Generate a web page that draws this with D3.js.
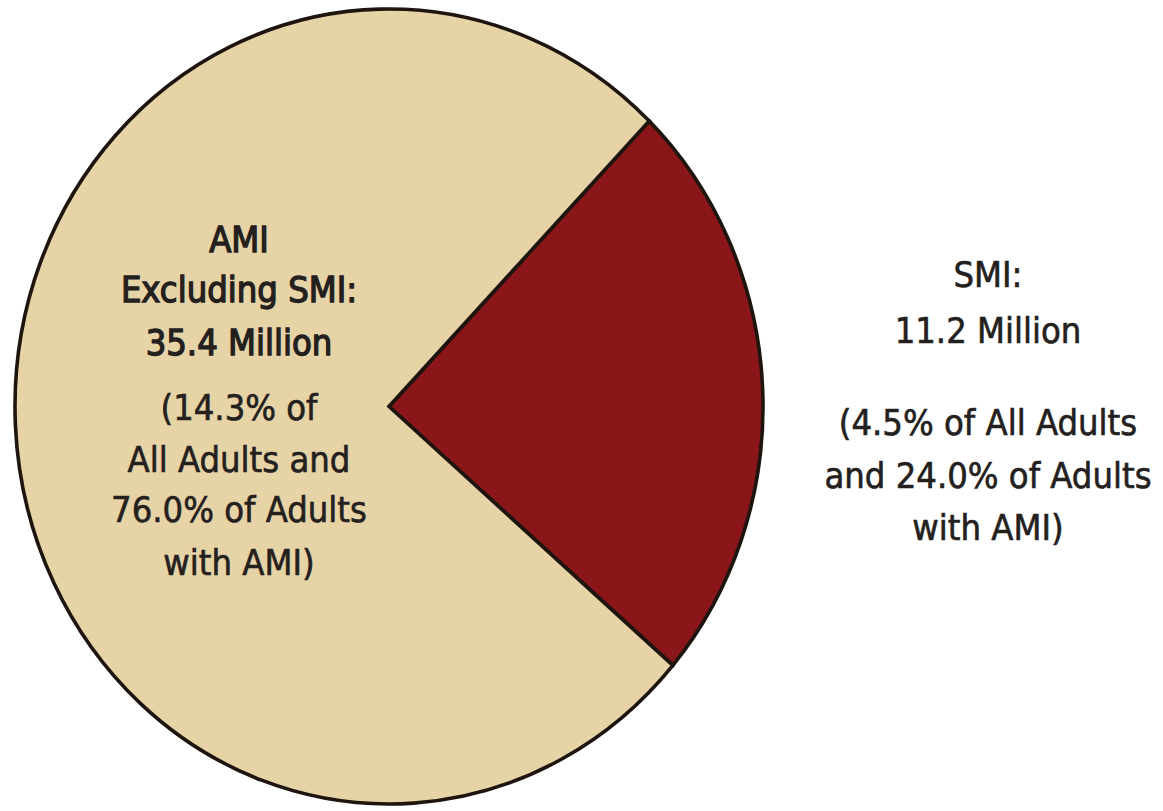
<!DOCTYPE html>
<html>
<head>
<meta charset="utf-8">
<script src="https://cdn.jsdelivr.net/npm/d3@7"></script>
<style>
  html, body { margin: 0; padding: 0; background: #ffffff; }
  svg { display: block; }
  text { font-family: "DejaVu Sans Condensed", "Liberation Sans Narrow", "Liberation Sans", sans-serif; fill: #24201d; }
</style>
</head>
<body>
<svg id="chart" width="1163" height="811"></svg>
<script>
// Adults with any mental illness (AMI), split into serious mental illness (SMI) and the rest
const categories = ["SMI", "AMI Excluding SMI"];
const millions = [11.2, 35.4];
const colors = ["#8a161a", "#e6d3a6"];

// Label lines: each entry is one group of lines
const amiLabel = [
  ["AMI", "Excluding SMI:", "35.4 Million"],
  ["(14.3% of", "All Adults and", "76.0% of Adults", "with AMI)"]
];
const smiLabel = [
  ["SMI:", "11.2 Million"],
  ["(4.5% of All Adults", "and 24.0% of Adults", "with AMI)"]
];

const svg = d3.select("#chart");

// The pie is slightly taller than wide
const cx = 389, cy = 406.5;
const rx = 374, ry = 397.5;
const R = rx;

const startDeg = 44.1;
const pie = d3.pie()
  .sort(null)
  .value(d => d)
  .startAngle(startDeg * Math.PI / 180)
  .endAngle(startDeg * Math.PI / 180 + 2 * Math.PI);

const arc = d3.arc().innerRadius(0).outerRadius(R);

const g = svg.append("g")
  .attr("transform", `translate(${cx},${cy}) scale(1,${ry / rx})`);

g.selectAll("path.slice")
  .data(pie(millions))
  .join("path")
  .attr("class", "slice")
  .attr("d", arc)
  .attr("fill", (d, i) => colors[i])
  .attr("stroke", "#1e150f")
  .attr("stroke-width", 3.6)
  .attr("stroke-linejoin", "miter")
  .attr("vector-effect", "non-scaling-stroke");

// Multi-line centred labels; the heading group is drawn a little heavier
function drawLabel(groups, x, baselines, size, strokes) {
  const t = svg.append("g");
  let k = 0;
  groups.forEach((lines, gi) => {
    lines.forEach(line => {
      t.append("text")
        .attr("x", x)
        .attr("y", baselines[k++])
        .attr("text-anchor", "middle")
        .attr("font-size", size)
        .attr("stroke", "#24201d")
        .attr("stroke-width", strokes[gi])
        .text(line);
    });
  });
}

drawLabel(amiLabel, 239, [252, 302, 355, 420, 472, 522, 575], 36, [1.3, 0.6]);
drawLabel(smiLabel, 988, [287, 343, 435, 488, 540], 36, [0.6, 0.6]);
</script>
</body>
</html>
